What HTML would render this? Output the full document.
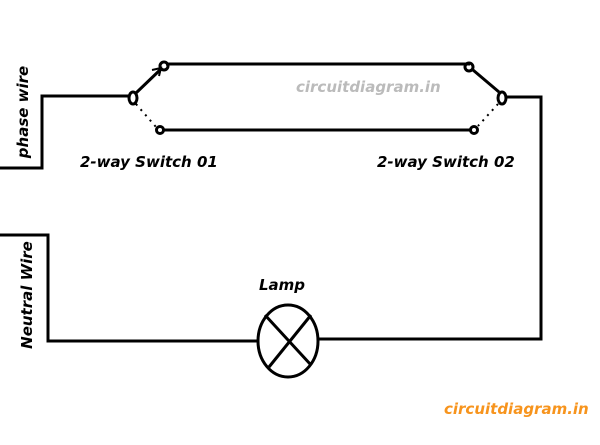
<!DOCTYPE html>
<html><head><style>
body{margin:0;background:#fff;width:600px;height:440px;overflow:hidden}
svg text{font-family:"Comic Sans MS","DejaVu Sans",sans-serif;font-style:italic;font-weight:bold}
</style></head><body>
<svg width="600" height="440" xmlns="http://www.w3.org/2000/svg">
<g stroke="#000" stroke-width="3" fill="none">
<polyline points="0,168 42,168 42,96 129,96"/>
<polyline points="166,64 470,64"/>
<polyline points="163,130 470,130"/>
<polyline points="506,97 541,97 541,339 318,339"/>
<polyline points="0,235 48,235 48,341 258,341"/>
<ellipse cx="133" cy="98" rx="4" ry="6"/>
<circle cx="164" cy="66" r="4"/>
<circle cx="160" cy="130" r="3.5"/>
<ellipse cx="502" cy="98" rx="4" ry="6"/>
<circle cx="469" cy="67" r="4"/>
<circle cx="474" cy="130" r="3.5"/>
<line x1="136" y1="93" x2="161" y2="69"/>
<line x1="499" y1="92" x2="473" y2="70"/>
<ellipse cx="288" cy="341" rx="30" ry="36"/>
<line x1="265" y1="315" x2="311" y2="365"/>
<line x1="311" y1="315" x2="269" y2="367"/>
</g>
<g stroke="#000" stroke-width="2" stroke-dasharray="2,5" fill="none">
<line x1="136" y1="104" x2="156" y2="127"/>
<line x1="498" y1="104" x2="478" y2="126"/>
</g>
<polyline points="152,70 161,68 159,76" stroke="#000" stroke-width="2" fill="none"/>
<text x="80" y="167" font-size="15" fill="#000">2-way Switch 01</text>
<text x="377" y="167" font-size="15" fill="#000">2-way Switch 02</text>
<text x="259" y="290" font-size="15" fill="#000">Lamp</text>
<text x="296" y="92" font-size="15" fill="#bbb">circuitdiagram.in</text>
<text x="444" y="414" font-size="15" fill="#f7941d">circuitdiagram.in</text>
<text transform="translate(28,112) rotate(-90)" text-anchor="middle" font-size="15" fill="#000">phase wire</text>
<text transform="translate(32,295) rotate(-90)" text-anchor="middle" font-size="15" fill="#000">Neutral Wire</text>
</svg>
</body></html>
